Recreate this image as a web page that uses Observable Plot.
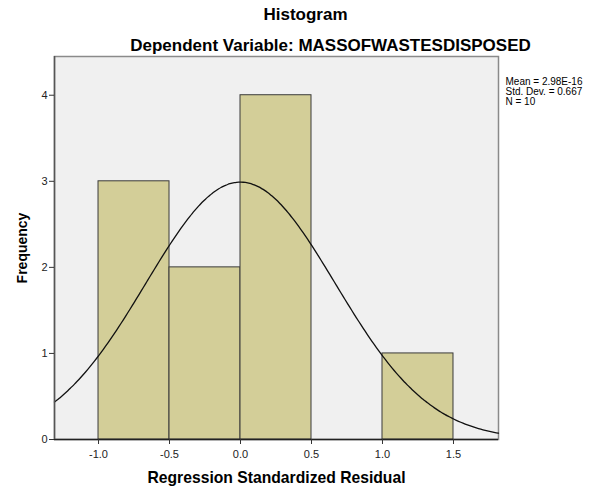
<!DOCTYPE html>
<html>
<head>
<meta charset="utf-8">
<script src="https://cdn.jsdelivr.net/npm/d3@7"></script>
<script src="https://cdn.jsdelivr.net/npm/@observablehq/plot@0.6"></script>
<style>
  html, body { margin: 0; padding: 0; background: #fff; }
  #chart { width: 604px; height: 486px; }
</style>
</head>
<body>
<div id="chart"></div>
<script>
// ---- data ----
const binStarts = [-1.0, -0.5, 0.0, 0.5, 1.0];
const binEnds = [-0.5, 0.0, 0.5, 1.0, 1.5];
const frequencies = [3, 2, 4, 0, 1];
const xTicks = [-1.0, -0.5, 0.0, 0.5, 1.0, 1.5];
const yTicks = [0, 1, 2, 3, 4];
const statMean = 2.98e-16;
const statSD = 0.667;
const statN = 10;
const statLines = ["Mean = 2.98E-16", "Std. Dev. = 0.667", "N = 10"];
const titleText = "Histogram";
const subtitleText = "Dependent Variable: MASSOFWASTESDISPOSED";
const xLabel = "Regression Standardized Residual";
const yLabel = "Frequency";

// ---- derived tables ----
const bins = binStarts.map((x1, i) => ({x1, x2: binEnds[i], y: frequencies[i]}));
const xDomain = [-1.31, 1.817];
const binWidth = binEnds[0] - binStarts[0];
// normal curve implied by the stated mean, SD and N (as SPSS draws it)
const curve = d3.range(0, 201).map(i => {
  const x = xDomain[0] + (xDomain[1] - xDomain[0]) * i / 200;
  const z = (x - statMean) / statSD;
  return {x, y: statN * binWidth * Math.exp(-0.5 * z * z) / (statSD * Math.sqrt(2 * Math.PI))};
});

const font = "Liberation Sans, Arial, Helvetica, sans-serif";

const chart = Plot.plot({
  width: 604,
  height: 486,
  marginLeft: 54,
  marginRight: 106,
  marginTop: 56,
  marginBottom: 47,
  style: {fontFamily: font, background: "#fff", color: "#000"},
  x: {domain: xDomain},
  y: {domain: [0, 4.45]},
  marks: [
    Plot.frame({fill: "#f0f0f0", stroke: "#8a8a8a", strokeWidth: 1.5}),
    Plot.rectY(bins.filter(d => d.y > 0), {x1: "x1", x2: "x2", y1: 0, y2: "y", fill: "#d3ce98", stroke: "#3a3a3a", strokeWidth: 1}),
    Plot.line(curve, {x: "x", y: "y", stroke: "#111", strokeWidth: 1.3, curve: "basis"}),
    Plot.ruleY([0], {stroke: "#222", strokeWidth: 1.5}),
    Plot.ruleX([xDomain[0]], {stroke: "#555", strokeWidth: 1.5}),
    Plot.axisX({ticks: xTicks, tickFormat: d => d.toFixed(1), tickSize: 5, tickPadding: 6, fontSize: 11, label: null, stroke: "#333", fill: "#222"}),
    Plot.axisY({ticks: yTicks, tickFormat: d => String(d), tickSize: 5, tickPadding: 2, fontSize: 11, label: null, stroke: "#333", fill: "#222"}),
    Plot.text([titleText], {frameAnchor: "top", lineAnchor: "middle", dx: 29, dy: -42, fontSize: 17, fontWeight: "bold", fill: "#000"}),
    Plot.text([subtitleText], {frameAnchor: "top", lineAnchor: "middle", dx: 54, dy: -11, fontSize: 17, fontWeight: "bold", fill: "#000"}),
    Plot.text([xLabel], {frameAnchor: "bottom", lineAnchor: "middle", dy: 38, fontSize: 15.7, fontWeight: "bold", fill: "#000"}),
    Plot.text([yLabel], {frameAnchor: "left", textAnchor: "middle", lineAnchor: "middle", rotate: -90, dx: -32, fontSize: 14, fontWeight: "bold", fill: "#000"}),
    Plot.text([statLines.join("\n")], {frameAnchor: "top-right", textAnchor: "start", lineAnchor: "top", dx: 7, dy: 21, fontSize: 10, lineHeight: 1.0, fill: "#000"})
  ]
});
document.getElementById("chart").appendChild(chart);
</script>
</body>
</html>
